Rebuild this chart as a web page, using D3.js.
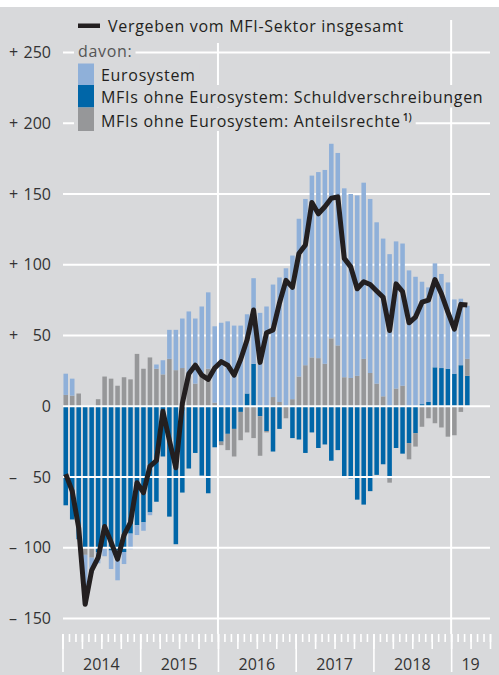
<!DOCTYPE html>
<html>
<head>
<meta charset="utf-8">
<script src="https://cdn.jsdelivr.net/npm/d3@7"></script>
<style>
  body { margin: 0; }
  svg { display: block; }
  text { font-family: "Open Sans", sans-serif; }
</style>
</head>
<body>
<svg width="499" height="675"></svg>
<script>
// monthly values, Jan 2014 - Mar 2019, in bn euro
const months = d3.timeMonths(new Date(2014, 0, 1), new Date(2019, 3, 1));
const yearLabels = ['2014', '2015', '2016', '2017', '2018', '19'];

const eurosystem = [
  15, 12, 0, -35, -11, -8, -6, -13, -21, -8.5, -11, -7,
  -6, -2, 3, 10, 20.5, 28.5, 35, 45, 46, 47, 54, 54,
  59, 60, 57, 57, 56, 60.5, 66, 70.5, 79.5, 88, 97.5, 101.5,
  111.5, 117.5, 128.5, 131.5, 137, 137.5, 136, 133.5, 130, 127.5, 124.5, 123,
  114, 111.5, 107.5, 104, 100.5, 96, 91.5, 86.5, 81, 73.5, 66.5, 61,
  52.5, 47, 37.5
];
const schuld = [
  -70, -80, -94, -100, -100, -103, -100, -102, -102, -103, -90, -84,
  -82, -75, -67.5, -35.5, -78, -97.5, -61, -44, -33, -49, -61.5, -29,
  -25, -19.5, -16, -4, 9, 30, -7, -17.5, -32, -16, 0, -22.5,
  -23.5, -33, -18.5, -29.5, -27, -38.5, -31, -50, -51, -66, -69.5, -60,
  -48.5, -41, -51, -29.5, -33.5, -26, -19, 1.5, 3, 27.5, 27, 26.5,
  23, 29, 21.5
];
const anteil = [
  8, 7.5, 9, -5, -7, 5, 21, 19.5, 14.5, 20.5, 19, 37,
  26.5, 34.5, 26.5, 22.5, 33.5, 25.5, 27, 22, 16, 23.5, 26.5, 2.5,
  -2.5, -11.5, -19.5, -20, -18.5, -22.5, -28, -1, 6.5, 3, -8.5, 5,
  21, 29, 34.5, 34, 30, 48, 43, 20.5, 20, 21.5, 33.5, 23.5,
  16, 7, -3, 12.5, 14.5, -11.5, -9.5, -14.5, -8.5, -12, -15, -21.5,
  -20.5, -4, 12
];
const total = [
  -48, -60, -86, -140, -116, -107, -85, -96, -108, -91, -82, -54,
  -61, -42.5, -38.5, -3.5, -24, -43.5, 2, 23, 29, 22, 19, 27,
  31.5, 29, 22, 33, 47, 68, 31, 52, 54, 73, 89, 84,
  108, 114, 144, 136, 141, 147, 148, 104.5, 98.5, 83, 88, 86,
  81.5, 77, 53.5, 86.5, 81, 59, 63, 73.5, 75, 89.5, 79.5, 66.5,
  54.5, 72, 71.5
];
const yTicks = [250, 200, 150, 100, 50, 0, -50, -100, -150];

const keys = ['schuld', 'anteil', 'eurosystem'];
const colors = { eurosystem: '#8fb0d9', schuld: '#0066a8', anteil: '#969799' };
const bg = '#d8d9db';

const table = months.map((m, i) => ({
  i, month: m, eurosystem: eurosystem[i], schuld: schuld[i], anteil: anteil[i], total: total[i]
}));

const svg = d3.select('svg');
svg.append('rect').attr('width', 499).attr('height', 675).attr('fill', '#fff');
svg.append('rect').attr('y', 7).attr('width', 499).attr('height', 668).attr('fill', bg);

const nSlots = 66; // axis runs to end of Jun 2019
const x = d3.scaleLinear().domain([0, nSlots]).range([62.5, 490]);
const xb = d3.scaleBand().domain(d3.range(nSlots)).range([62.5, 490])
  .paddingInner(0.3).paddingOuter(0.15);
const y = d3.scaleLinear().domain([-150, 250]).range([618.5, 52.5]);

// gridlines above zero sit behind the bars
const gridBack = svg.append('g');
gridBack.selectAll('line')
  .data(yTicks.filter(d => d > 0))
  .join('line')
  .attr('x1', 63).attr('x2', 490)
  .attr('y1', d => y(d)).attr('y2', d => y(d))
  .attr('stroke', '#fff').attr('stroke-width', 2);

// vertical lines at 2016 and 2019
gridBack.selectAll('.vline')
  .data([24, 60])
  .join('line')
  .attr('class', 'vline')
  .attr('x1', d => x(d)).attr('x2', d => x(d))
  .attr('y1', 20).attr('y2', 634)
  .attr('stroke', '#fff').attr('stroke-width', 2);

const series = d3.stack().keys(keys).offset(d3.stackOffsetDiverging)(table);

svg.append('g')
  .selectAll('g')
  .data(series)
  .join('g')
  .attr('fill', d => colors[d.key])
  .selectAll('rect')
  .data(d => d)
  .join('rect')
  .attr('x', d => xb(d.data.i))
  .attr('width', xb.bandwidth())
  .attr('y', d => y(Math.max(d[0], d[1])))
  .attr('height', d => Math.abs(y(d[0]) - y(d[1])));

// zero and negative gridlines drawn over the bars
svg.append('g')
  .selectAll('line')
  .data(yTicks.filter(d => d <= 0))
  .join('line')
  .attr('x1', 63).attr('x2', 490)
  .attr('y1', d => y(d)).attr('y2', d => y(d))
  .attr('stroke', '#fff').attr('stroke-width', 2);

// x axis ticks: months short, quarters medium, years long
function tickRow(values, size) {
  const g = svg.append('g')
    .attr('transform', 'translate(0,634)')
    .call(d3.axisBottom(x).tickValues(values).tickSize(size).tickFormat(''));
  g.select('.domain').remove();
  g.selectAll('line').attr('stroke', '#fff').attr('stroke-width', 1.6);
}
tickRow(d3.range(0, nSlots + 1), 8);
tickRow(d3.range(0, nSlots + 1, 3), 15);
tickRow(d3.range(0, nSlots, 12), 38);

svg.append('g')
  .selectAll('text')
  .data(yearLabels)
  .join('text')
  .attr('x', (d, i) => (x(i * 12) + x(Math.min(i * 12 + 12, nSlots))) / 2)
  .attr('y', 670)
  .attr('text-anchor', 'middle')
  .attr('font-size', 16)
  .attr('fill', '#333')
  .text(d => d);

// total line
const line = d3.line()
  .x(d => xb(d.i) + xb.bandwidth() / 2)
  .y(d => y(d.total));
svg.append('path')
  .datum(table)
  .attr('d', line)
  .attr('fill', 'none')
  .attr('stroke', '#231f20')
  .attr('stroke-width', 5)
  .attr('stroke-linejoin', 'round');

// y labels
const yl = svg.append('g').attr('font-size', 16).attr('fill', '#333');
yl.selectAll('.sign')
  .data(yTicks.filter(d => d !== 0))
  .join('text')
  .attr('class', 'sign')
  .attr('x', 9)
  .attr('y', d => y(d) + 5.5)
  .text(d => d > 0 ? '+' : '\u2013');
yl.selectAll('.num')
  .data(yTicks)
  .join('text')
  .attr('class', 'num')
  .attr('x', 51)
  .attr('y', d => y(d) + 5.5)
  .attr('text-anchor', 'end')
  .text(d => Math.abs(d));

// legend
const legend = svg.append('g').attr('font-size', 16).attr('letter-spacing', 0.7);
function boxBehind(node, x0, y0, y1, pad) {
  const b = node.getBBox();
  legend.insert('rect', ':first-child')
    .attr('x', x0).attr('y', y0)
    .attr('width', b.x + b.width + pad - x0)
    .attr('height', y1 - y0)
    .attr('fill', bg);
}

const t1 = legend.append('text').attr('x', 108).attr('y', 32).attr('fill', '#231f20')
  .text('Vergeben vom MFI-Sektor insgesamt');
legend.append('rect').attr('x', 78).attr('y', 23.5).attr('width', 22).attr('height', 4.5)
  .attr('fill', '#231f20');
const t2 = legend.append('text').attr('x', 78).attr('y', 57).attr('fill', '#555')
  .text('davon:');

const rows = [
  { key: 'eurosystem', label: 'Eurosystem', y0: 63.5, y1: 85 },
  { key: 'schuld', label: 'MFIs ohne Eurosystem: Schuldverschreibungen', y0: 85, y1: 107.5 },
  { key: 'anteil', label: 'MFIs ohne Eurosystem: Anteilsrechte', y0: 107.5, y1: 131 }
];
const rowNodes = rows.map(r => {
  legend.append('rect').attr('x', 78).attr('y', r.y0).attr('width', 16)
    .attr('height', r.y1 - r.y0).attr('fill', colors[r.key]);
  const t = legend.append('text').attr('x', 101).attr('y', r.y1 - 4.5).attr('fill', '#231f20')
    .text(r.label);
  if (r.key === 'anteil') {
    t.append('tspan').attr('dx', 2).attr('dy', -6).attr('font-size', 10)
      .attr('letter-spacing', 0).attr('font-weight', 600).text('1)');
  }
  return t;
});

boxBehind(t1.node(), 74, 14, 43, 4);
boxBehind(t2.node(), 74, 44, 62, 3);
rows.forEach((r, i) => boxBehind(rowNodes[i].node(), 74, r.y0, r.y1, 4));
</script>
</body>
</html>
